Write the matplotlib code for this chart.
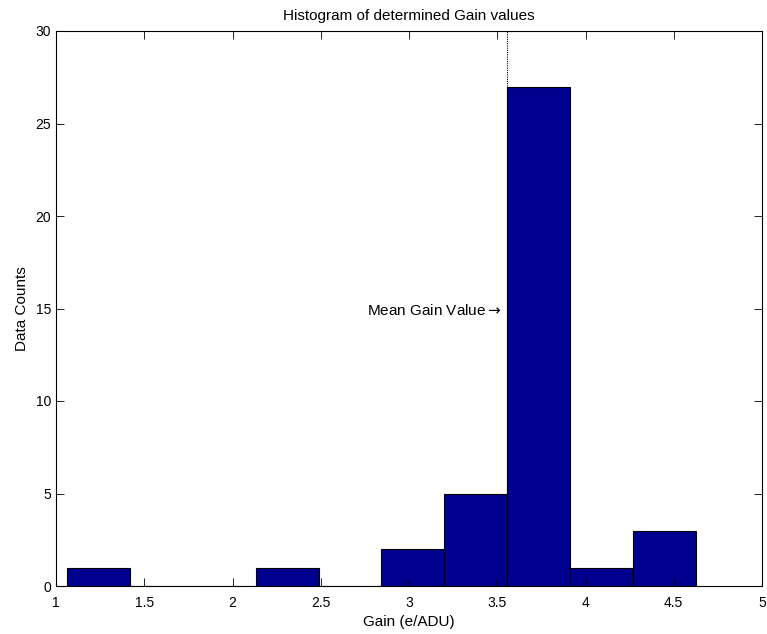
import numpy as np
import matplotlib
matplotlib.use('Agg')
import matplotlib.pyplot as plt

# histogram (10 bins between min and max gain)
bin_edges = np.linspace(1.061, 4.627, 11)
counts = [1, 0, 0, 1, 0, 2, 5, 27, 1, 3]
mean_gain = 3.555

plt.rcParams['font.family'] = ['Liberation Sans', 'DejaVu Sans']
plt.rcParams['font.size'] = 10

fig = plt.figure(figsize=(7.67, 6.34), dpi=100)
ax = fig.add_axes([56/767, 1-586/634, (762-56)/767, (586-31)/634])

ax.bar(bin_edges[:-1], counts, width=np.diff(bin_edges), align='edge',
       color='#00008f', edgecolor='black', linewidth=0.8)
ax.plot([mean_gain, mean_gain], [0, 30], color='black', linestyle=(0, (1, 1)), linewidth=0.8)
ax.text(mean_gain - 0.03, 14.9, r'Mean Gain Value$\rightarrow$', ha='right', va='center', fontsize=11)

ax.set_xlim(1, 5)
ax.set_ylim(0, 30)
ax.set_xticks(np.arange(1, 5.01, 0.5))
ax.set_xticklabels(['1', '1.5', '2', '2.5', '3', '3.5', '4', '4.5', '5'])
ax.set_yticks(np.arange(0, 31, 5))
ax.tick_params(direction='in', top=True, right=True, length=6, width=0.6)
ax.tick_params(axis='x', pad=7)
for s in ax.spines.values():
    s.set_linewidth(0.8)

ax.set_xlabel('Gain (e/ADU)', labelpad=4, fontsize=11)
ax.set_ylabel('Data Counts', fontsize=11, labelpad=5)
ax.set_title('Histogram of determined Gain values', pad=8, fontsize=11)

plt.savefig('out.png', dpi=100)
